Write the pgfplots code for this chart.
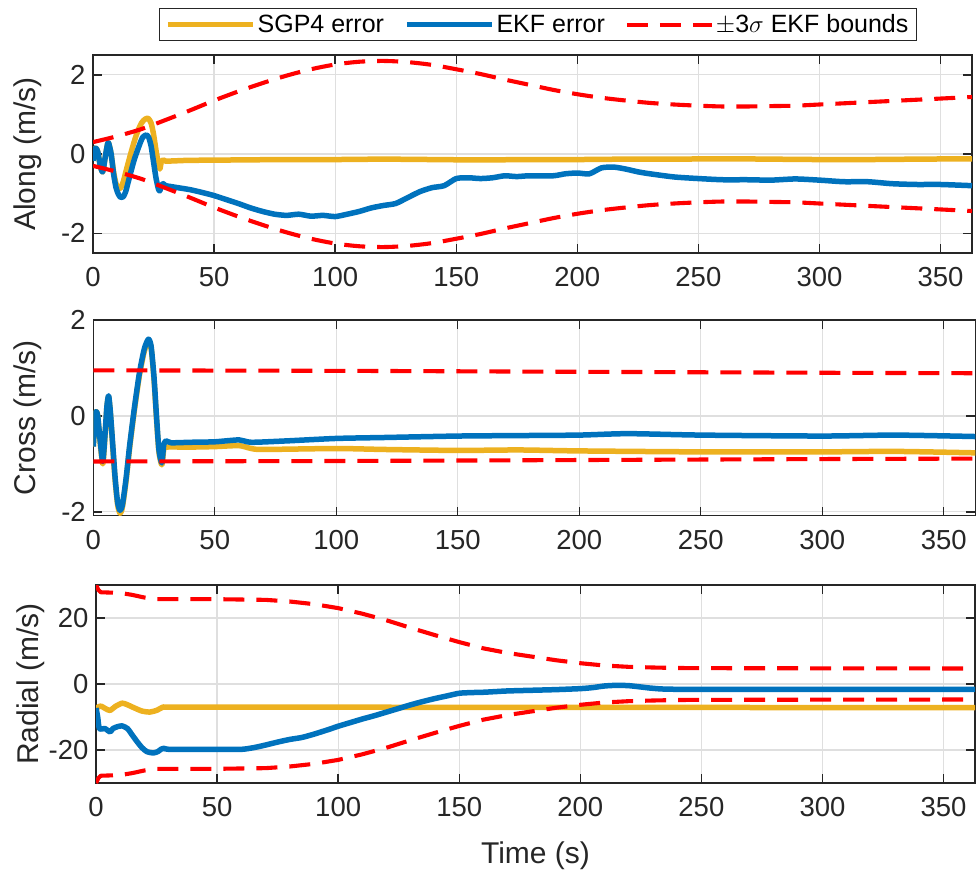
\documentclass[border=0pt]{standalone}
\usepackage{fontspec}
\setmainfont{Liberation Sans}
\usepackage{pgfplots}
\pgfplotsset{compat=1.18}
\usepackage{pgfplotstable}

\definecolor{myyel}{rgb}{0.929,0.694,0.125}
\definecolor{myblu}{rgb}{0,0.447,0.741}
\definecolor{axc}{RGB}{38,38,38}
\definecolor{gridc}{RGB}{223,223,223}

% ---------- Along ----------
\pgfplotstableread{
t up lo
0 0.30 -0.30
10 0.45 -0.45
20 0.63 -0.63
30 0.86 -0.86
40 1.10 -1.10
50 1.35 -1.35
60 1.58 -1.58
70 1.79 -1.79
80 1.98 -1.98
90 2.14 -2.14
100 2.26 -2.26
110 2.33 -2.33
120 2.35 -2.35
130 2.32 -2.32
140 2.25 -2.25
150 2.14 -2.14
160 2.02 -2.02
170 1.88 -1.88
180 1.75 -1.75
190 1.62 -1.62
200 1.51 -1.51
210 1.42 -1.42
220 1.35 -1.35
230 1.29 -1.29
240 1.25 -1.25
250 1.22 -1.22
260 1.20 -1.20
270 1.20 -1.20
280 1.21 -1.21
290 1.22 -1.22
300 1.25 -1.25
310 1.28 -1.28
320 1.31 -1.31
330 1.34 -1.34
340 1.37 -1.37
350 1.40 -1.40
363 1.44 -1.44
}\alongbnd

\pgfplotstableread{
t v
0 -0.17
1 0.15
2 0.05
3 -0.30
4 -0.45
5 -0.10
6 0.25
6.5 0.27
7.5 0.00
8.5 -0.45
9.5 -0.75
10.5 -0.87
11.5 -0.85
12.5 -0.70
14 -0.35
16 0.10
18 0.50
20 0.78
21.5 0.88
22.8 0.90
24 0.78
25 0.50
26 0.10
27 -0.25
27.6 -0.38
28.2 -0.20
29 -0.15
30 -0.18
35 -0.17
40 -0.16
60 -0.15
80 -0.14
100 -0.14
120 -0.13
140 -0.14
160 -0.15
180 -0.14
200 -0.14
220 -0.13
240 -0.13
260 -0.12
280 -0.13
300 -0.14
320 -0.14
340 -0.13
363 -0.12
}\alongsgp

\pgfplotstableread{
t v
0 -0.17
1 0.15
2 0.05
3 -0.30
4 -0.45
5 -0.10
6 0.25
6.5 0.27
7.5 0.00
8.5 -0.50
9.5 -0.85
10.5 -1.02
11.5 -1.10
12.5 -1.08
13.5 -0.95
15 -0.60
17 -0.15
19 0.20
20.5 0.42
22 0.48
23 0.42
24 0.20
25 -0.20
26 -0.60
27 -0.88
27.6 -0.93
28.3 -0.78
29 -0.75
30 -0.80
32 -0.82
35 -0.85
40 -0.90
45 -0.97
50 -1.05
55 -1.15
60 -1.25
65 -1.36
70 -1.45
75 -1.52
80 -1.55
85 -1.52
90 -1.57
95 -1.55
100 -1.58
105 -1.52
110 -1.45
115 -1.36
120 -1.30
125 -1.25
130 -1.10
135 -0.95
140 -0.85
145 -0.80
150 -0.62
155 -0.60
160 -0.62
165 -0.60
170 -0.55
175 -0.57
180 -0.55
190 -0.55
195 -0.50
200 -0.48
205 -0.50
210 -0.35
215 -0.33
220 -0.38
225 -0.45
230 -0.50
240 -0.58
250 -0.62
260 -0.65
270 -0.65
280 -0.66
290 -0.63
300 -0.66
310 -0.70
320 -0.70
330 -0.75
340 -0.77
350 -0.77
363 -0.80
}\alongekf

% ---------- Cross ----------
\pgfplotstableread{
t up lo
0 0.95 -0.95
100 0.94 -0.94
200 0.92 -0.92
300 0.90 -0.90
363 0.89 -0.89
}\crossbnd

\pgfplotstableread{
t v
0 -0.64
0.5 -0.20
1.1 0.09
1.8 0.00
2.8 -0.55
3.9 -1.00
4.8 -0.45
5.6 0.18
6.3 0.40
7 0.08
8 -0.65
9 -1.35
10 -1.85
11 -2.03
12 -1.90
13.5 -1.35
15 -0.65
17 0.15
19 0.85
21 1.35
22.7 1.55
23.8 1.42
25 0.75
26 -0.05
27 -0.75
28.2 -1.02
29 -0.70
30 -0.65
40 -0.65
50 -0.64
60 -0.62
65 -0.68
70 -0.70
100 -0.68
120 -0.70
150 -0.72
175 -0.71
200 -0.73
250 -0.75
300 -0.75
330 -0.74
363 -0.77
}\crosssgp

\pgfplotstableread{
t v
0 -0.64
0.5 -0.20
1.1 0.09
1.8 0.00
2.8 -0.50
3.9 -0.95
4.8 -0.40
5.6 0.20
6.3 0.42
7 0.10
8 -0.60
9 -1.30
10 -1.80
11 -1.97
12 -1.85
13.5 -1.30
15 -0.60
17 0.20
19 0.90
21 1.40
22.7 1.60
23.8 1.45
25 0.80
26 0.00
27 -0.70
28.2 -0.98
29 -0.60
30 -0.52
32 -0.56
40 -0.55
50 -0.54
60 -0.50
65 -0.55
80 -0.52
100 -0.47
120 -0.45
150 -0.42
175 -0.41
200 -0.40
220 -0.37
250 -0.40
300 -0.42
330 -0.40
363 -0.43
}\crossekf

% ---------- Radial ----------
\pgfplotstableread{
t up lo
0 30.0 -30.0
1 28.5 -28.5
2 27.8 -27.8
10 27.6 -27.6
15 27.0 -27.0
20 26.2 -26.2
25 25.7 -25.7
50 25.7 -25.7
70 25.5 -25.5
80 25.0 -25.0
90 24.2 -24.2
100 23.0 -23.0
110 21.3 -21.3
120 19.3 -19.3
130 17.0 -17.0
140 14.8 -14.8
150 12.7 -12.7
160 10.8 -10.8
170 9.4 -9.4
180 8.3 -8.3
190 7.2 -7.2
200 6.3 -6.3
210 5.6 -5.6
220 5.2 -5.2
230 5.0 -5.0
240 4.85 -4.85
250 4.8 -4.8
300 4.75 -4.75
363 4.7 -4.7
}\radbnd

\pgfplotstableread{
t v
0 -7.3
2 -6.7
4 -7.5
5.8 -8.0
8 -6.8
10.8 -5.8
13 -6.3
16 -7.3
19 -8.2
22.2 -8.5
25 -8.0
27.7 -7.0
30 -7.0
60 -7.0
100 -7.0
150 -7.1
200 -7.1
250 -7.1
300 -7.15
363 -7.15
}\radsgp

\pgfplotstableread{
t v
0 -7.3
0.7 -10.0
1.4 -13.5
3.7 -13.5
5.8 -14.5
7 -13.5
9 -12.9
10.8 -12.7
13 -13.5
15 -15.5
17 -17.5
19 -19.3
21 -20.5
23.6 -20.9
25.5 -20.5
27 -19.7
28 -19.5
30 -19.8
40 -19.8
50 -19.8
60 -19.8
65 -19.3
70 -18.5
75 -17.6
80 -16.8
85 -16.2
90 -15.2
96 -13.8
100 -12.8
105 -11.7
110 -10.6
115 -9.6
120 -8.5
125 -7.4
130 -6.3
135 -5.3
140 -4.4
145 -3.6
150 -2.8
155 -2.6
160 -2.5
165 -2.3
170 -2.1
180 -1.9
190 -1.7
200 -1.4
205 -1.1
210 -0.6
215 -0.4
220 -0.5
225 -0.9
230 -1.3
240 -1.6
300 -1.6
363 -1.6
}\radekf

\pgfplotsset{
  mystyle/.style={
    scale only axis,
    xmin=0, xmax=363,
    xtick={0,50,...,350},
    grid=major,
    major grid style={line width=1.2bp, gridc},
    axis line style={line width=1.4bp, axc},
    every tick/.style={line width=1.4bp, axc},
    major tick length=9bp,
    tick align=inside,
    tick pos=both,
    ticklabel style={font=\fontsize{27.5bp}{33bp}\selectfont, text=axc},
    /pgf/number format/assume math mode=true,
    xticklabel style={yshift=-11bp},
    yticklabel style={xshift=-4bp},
    every axis y label/.style={at={([xshift=-51bp]axis description cs:0,0.5)}, anchor=south, rotate=90, inner sep=0pt, font=\fontsize{30bp}{36bp}\selectfont, text=axc},
    every axis x label/.style={at={([yshift=-80bp]axis description cs:0.5,0)}, anchor=base, inner sep=0pt, font=\fontsize{30bp}{36bp}\selectfont, text=axc},
    sgp/.style={myyel, line width=5.5bp, line join=round, smooth, tension=0.4},
    ekf/.style={myblu, line width=5.5bp, line join=round, smooth, tension=0.4},
    bnd/.style={red, line width=4.1bp, dash pattern=on 21bp off 12bp},
  }
}

\begin{document}
\begin{tikzpicture}
\path[use as bounding box] (0,0) rectangle (976bp,-876bp);

% Along
\begin{axis}[mystyle,
  at={(93bp,-55bp)}, anchor=north west,
  width=879bp, height=198bp,
  ymin=-2.5, ymax=2.5, ytick={-2,0,2},
  ylabel={Along (m/s)},
  legend columns=3,
  legend style={at={([yshift=14bp]axis description cs:0.506,1)}, anchor=south,
    draw=axc, line width=1.2bp, fill=white,
    font=\fontsize{25bp}{30bp}\selectfont,
    inner xsep=6bp, inner ysep=4bp,
    /tikz/every even column/.append style={column sep=18bp}},
  legend image code/.code={\draw[#1, sharp plot] (0bp,0bp) -- (85bp,0bp);},
]
\addplot[sgp] table[x=t,y=v] {\alongsgp};
\addlegendentry{SGP4 error}
\addplot[ekf] table[x=t,y=v] {\alongekf};
\addlegendentry{EKF error}
\addplot[bnd, smooth] table[x=t,y=up] {\alongbnd};
\addlegendentry{$\pm$3$\sigma$ EKF bounds}
\addplot[bnd, smooth, forget plot] table[x=t,y=lo] {\alongbnd};
\end{axis}

% Cross
\begin{axis}[mystyle,
  at={(93.3bp,-320bp)}, anchor=north west,
  width=882bp, height=195.5bp,
  ymin=-2.077, ymax=2, ytick={-2,0,2},
  ylabel={Cross (m/s)},
]
\addplot[sgp] table[x=t,y=v] {\crosssgp};
\addplot[ekf] table[x=t,y=v] {\crossekf};
\addplot[bnd, smooth] table[x=t,y=up] {\crossbnd};
\addplot[bnd, smooth] table[x=t,y=lo] {\crossbnd};
\end{axis}

% Radial
\begin{axis}[mystyle,
  at={(96bp,-585bp)}, anchor=north west,
  width=879bp, height=198bp,
  ymin=-30, ymax=30, ytick={-20,0,20},
  ylabel={Radial (m/s)},
  xlabel={Time (s)},
]
\addplot[sgp] table[x=t,y=v] {\radsgp};
\addplot[ekf] table[x=t,y=v] {\radekf};
\addplot[bnd, line join=round] table[x=t,y=up] {\radbnd};
\addplot[bnd, line join=round] table[x=t,y=lo] {\radbnd};
\end{axis}
\end{tikzpicture}
\end{document}
